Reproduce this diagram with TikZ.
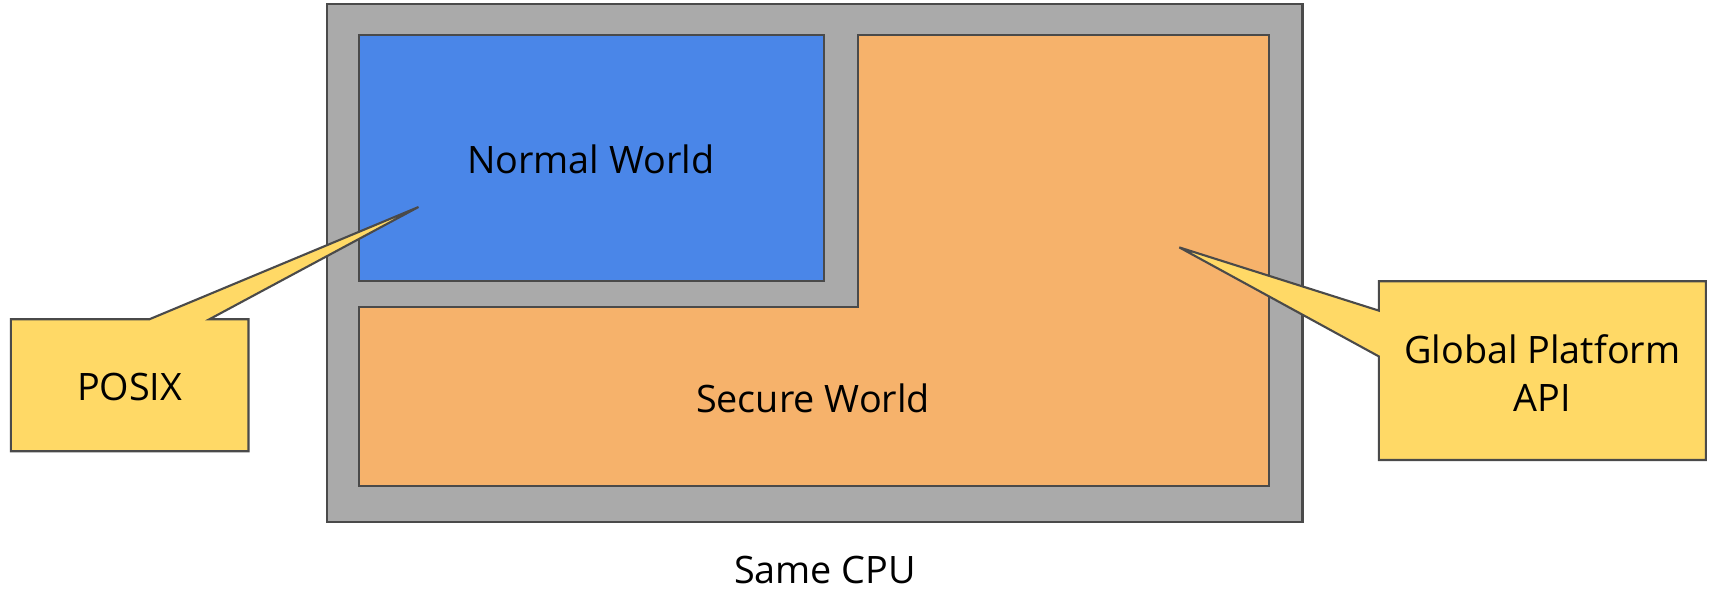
\documentclass[tikz,border=0pt]{standalone}
\usepackage{fontspec}
\setmainfont{Open Sans}
\definecolor{cpugrey}{HTML}{AAAAAA}
\definecolor{edgegrey}{HTML}{4A4A4A}
\definecolor{normalblue}{HTML}{4A86E8}
\definecolor{secureorange}{HTML}{F6B26B}
\definecolor{noteyellow}{HTML}{FFD966}

\begin{document}
\begin{tikzpicture}[x=0.02cm,y=-0.02cm,
  outline/.style={draw=edgegrey,line width=1.2pt,line join=miter},
  world text/.style={font=\fontsize{21.5}{27.5}\selectfont,align=center,inner sep=0pt}]

  \useasboundingbox (0,0) rectangle (1709,591);

  % chip and the two worlds
  \draw[outline,fill=cpugrey] (327,4.4) rectangle (1302.5,522);
  \draw[outline,fill=normalblue] (358.6,34.9) rectangle (824,281.2);
  \draw[outline,fill=secureorange]
    (358.6,307.4) -- (857.8,307.4) -- (857.8,34.9) -- (1268.7,34.9)
    -- (1268.7,486.1) -- (358.6,486.1) -- cycle;

  % callouts
  \draw[outline,fill=noteyellow]
    (10.9,319.3) -- (149.3,319.3) -- (418.5,207) -- (209.3,319.3)
    -- (248.5,319.3) -- (248.5,451.2) -- (10.9,451.2) -- cycle;
  \draw[outline,fill=noteyellow]
    (1378.8,281.2) -- (1705.8,281.2) -- (1705.8,460) -- (1378.8,460)
    -- (1378.8,356.4) -- (1179.3,247.4) -- (1378.8,310.6) -- cycle;

  \node[world text] (normal) at (590.7,159) {Normal World};
  \node[world text] (secure) at (813,398) {Secure World};
  \node[world text] (posix) at (129.7,387) {POSIX};
  \node[world text] (gpapi) at (1542.3,373) {Global Platform\\API};
  \node[font=\fontsize{21.5}{27.5}\selectfont,inner sep=0pt,anchor=base]
    (cpu) at (825,583) {Same CPU};

\end{tikzpicture}
\end{document}
